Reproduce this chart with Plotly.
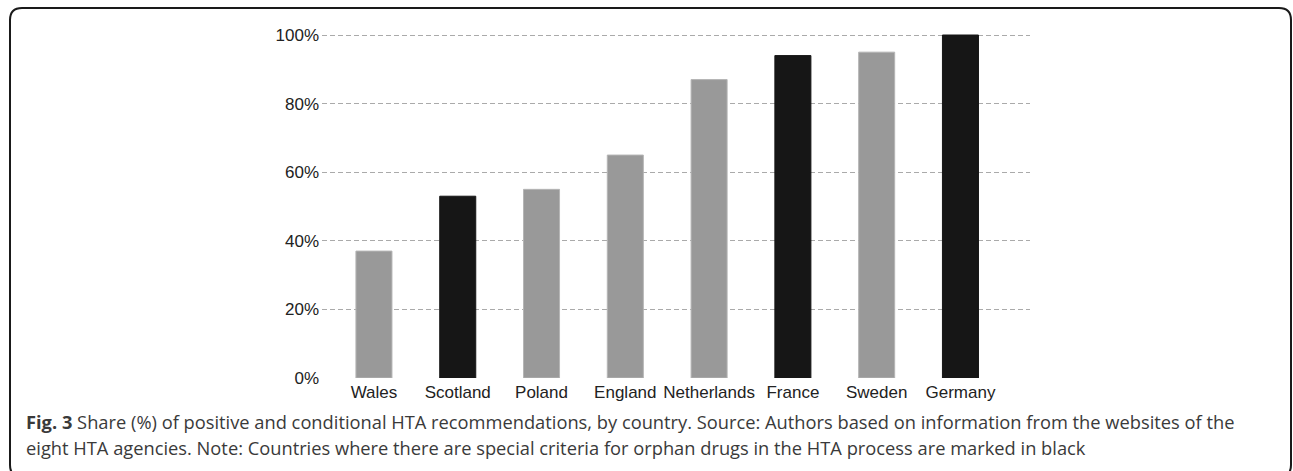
import plotly.graph_objects as go

countries = ["Wales", "Scotland", "Poland", "England", "Netherlands", "France", "Sweden", "Germany"]
share_pct = [37, 53, 55, 65, 87, 94, 95, 100]
orphan_criteria = [False, True, False, False, False, True, False, True]
y_ticks = [0, 20, 40, 60, 80, 100]
y_tick_labels = ["0%", "20%", "40%", "60%", "80%", "100%"]

caption_line1 = ("<b>Fig. 3</b> Share (%) of positive and conditional HTA recommendations, by country. "
                 "Source: Authors based on information from the websites of the")
caption_line2 = ("eight HTA agencies. Note: Countries where there are special criteria for orphan drugs "
                 "in the HTA process are marked in black")

W, H = 1293, 471
L, R, T, B = 322, 1030, 30, 378

GREY = "#999999"
BLACK = "#161616"

fig = go.Figure()
fig.add_trace(go.Bar(
    x=countries,
    y=share_pct,
    width=0.43,
    marker=dict(
        color=[BLACK if o else GREY for o in orphan_criteria],
        line=dict(color=["#161616" if o else "#b5b5b5" for o in orphan_criteria], width=1),
    ),
    hoverinfo="skip",
))

def px(x):
    return (x - L) / (R - L)

def py(y):
    return (B - y) / (B - T)

# rounded frame around the figure
x0, x1, y0, y1, r = 10, 1291, 8, 477, 12
path = (f"M {px(x0)},{py(y0 + r)} Q {px(x0)},{py(y0)} {px(x0 + r)},{py(y0)} "
        f"L {px(x1 - r)},{py(y0)} Q {px(x1)},{py(y0)} {px(x1)},{py(y0 + r)} "
        f"L {px(x1)},{py(y1 - r)} Q {px(x1)},{py(y1)} {px(x1 - r)},{py(y1)} "
        f"L {px(x0 + r)},{py(y1)} Q {px(x0)},{py(y1)} {px(x0)},{py(y1 - r)} Z")
fig.add_shape(type="path", xref="paper", yref="paper", path=path,
              line=dict(color="#1a1a1a", width=2), layer="above")

cap_font = dict(family="Open Sans", size=18.3, color="#3a3a3a")
fig.add_annotation(text=caption_line1, xref="paper", yref="paper", x=px(24), y=py(421),
                   xanchor="left", yanchor="middle", showarrow=False, font=cap_font)
fig.add_annotation(text=caption_line2, xref="paper", yref="paper", x=px(24), y=py(447),
                   xanchor="left", yanchor="middle", showarrow=False, font=cap_font)

fig.update_layout(
    width=W, height=H,
    margin=dict(l=L, r=W - R, t=T, b=H - B, pad=0),
    paper_bgcolor="white",
    plot_bgcolor="white",
    showlegend=False,
    font=dict(family="Liberation Sans, Arial", size=17, color="#222222"),
    xaxis=dict(
        type="category",
        range=[-0.62, 7.83],
        showgrid=False, zeroline=False, showline=False,
        ticks="", ticklabelstandoff=2,
        tickfont=dict(size=17, color="#222222"),
    ),
    yaxis=dict(
        range=[0, (B - T) / 3.43],
        tickvals=y_ticks,
        ticktext=y_tick_labels,
        showgrid=True, gridcolor="#aaaaaa", gridwidth=1.3, griddash="5px,3px",
        zeroline=False, showline=False,
        ticks="", ticklabelstandoff=2,
        tickfont=dict(size=17, color="#222222"),
    ),
)

fig.write_html("out.html", config={"displayModeBar": False},
               post_script="document.body.style.margin='0';document.body.style.overflow='hidden';")
